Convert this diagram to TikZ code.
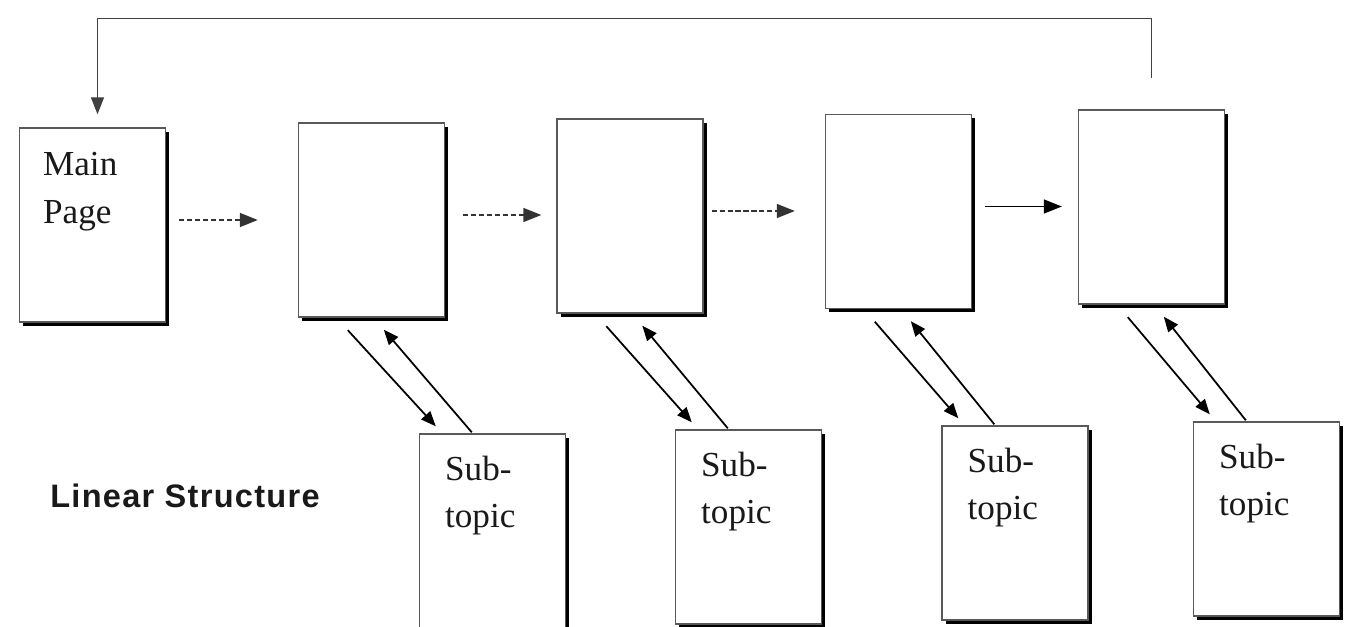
\documentclass[tikz,border=0pt]{standalone}
\usepackage{fontspec}
\setmainfont{Liberation Serif}
\setsansfont{Liberation Sans}
\usetikzlibrary{arrows.meta, positioning, shadows}

\begin{document}
\begin{tikzpicture}[
  pagebox/.style={draw=black!65, line width=0.8pt, fill=white, minimum width=2.92cm, minimum height=3.88cm, inner sep=0pt, drop shadow={shadow xshift=2pt, shadow yshift=-2pt, fill=black, opacity=1}},
  boxtxt/.style={anchor=north west, align=left, inner sep=0pt, text=black!90, font=\fontsize{20}{27}\selectfont},
  harr/.style={-{Triangle[length=3.6mm, width=2.8mm]}, line width=0.9pt},
  hdash/.style={harr, dash pattern=on 3pt off 1.5pt, draw=black!80},
  darr/.style={-{Triangle[length=3mm, width=2.4mm]}, line width=1pt},
  rarr/.style={-{Triangle[length=3.4mm, width=2.6mm]}, line width=0.8pt, draw=black!75},
]
\useasboundingbox (0,0) rectangle (27.4,12.52);

\node[pagebox] (main) at (1.85,8.02) {};
\node[pagebox] (p1) at (7.43,8.12) {};
\node[pagebox] (p2) at (12.6,8.2) {};
\node[pagebox] (p3) at (17.97,8.29) {};
\node[pagebox] (p4) at (23.03,8.38) {};

\node[pagebox] (s1) at (9.85,1.9) {};
\node[pagebox] (s2) at (14.97,1.98) {};
\node[pagebox] (s3) at (20.3,2.06) {};
\node[pagebox] (s4) at (25.33,2.14) {};

\node[boxtxt] (maintxt) at ([shift={(0.48,-0.5)}]main.north west) {Main\\Page};
\node[boxtxt] (s1txt) at ([shift={(0.52,-0.44)}]s1.north west) {Sub-\\topic};
\node[boxtxt] (s2txt) at ([shift={(0.52,-0.44)}]s2.north west) {Sub-\\topic};
\node[boxtxt] (s3txt) at ([shift={(0.52,-0.44)}]s3.north west) {Sub-\\topic};
\node[boxtxt] (s4txt) at ([shift={(0.52,-0.44)}]s4.north west) {Sub-\\topic};

\node[font=\sffamily\bfseries\fontsize{18.5}{22}\selectfont\addfontfeature{LetterSpace=4}, text=black!90] (title) at (3.7,2.6) {Linear Structure};

\draw[hdash, shorten <=0.26cm, shorten >=0.8cm] ([yshift=1mm]main.east) -- ([yshift=1mm]main.east -| p1.west);
\draw[hdash, shorten <=0.36cm, shorten >=0.3cm] ([yshift=1mm]p1.east) -- ([yshift=1mm]p1.east -| p2.west);
\draw[hdash, shorten <=0.16cm, shorten >=0.6cm] ([yshift=1mm]p2.east) -- ([yshift=1mm]p2.east -| p3.west);
\draw[harr, shorten <=0.26cm, shorten >=0.32cm] ([yshift=1mm]p3.east) -- ([yshift=1mm]p3.east -| p4.west);

\foreach \pg/\sub in {p1/s1, p2/s2, p3/s3, p4/s4} {
  \draw[darr] ([shift={(1.0,-0.25)}]\pg.south west) -- ([shift={(0.34,0.14)}]\sub.north west);
  \draw[darr] ([shift={(1.06,0.02)}]\sub.north west) -- ([shift={(1.72,-0.24)}]\pg.south west);
}

\coordinate (ret) at ([yshift=0.62cm]p4.north);
\draw[rarr, shorten >=0.26cm] (ret) -- ++(0,1.2) -| ([xshift=0.1cm]main.north);
\end{tikzpicture}
\end{document}
